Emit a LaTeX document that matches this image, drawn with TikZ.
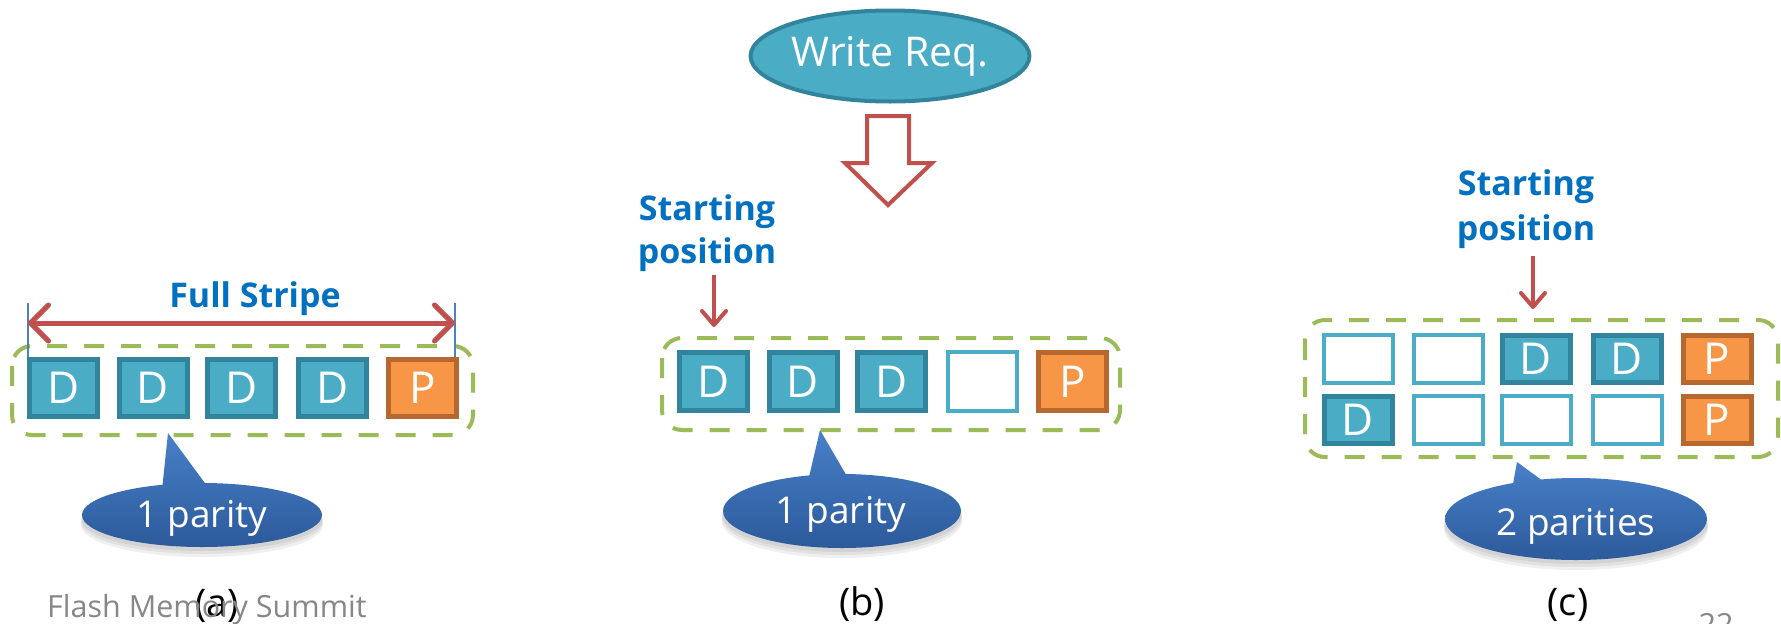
\documentclass[tikz,border=0pt]{standalone}
\usepackage{fontspec}
\setmainfont{Open Sans}
\usetikzlibrary{arrows.meta,shapes.geometric}

\definecolor{dedge}{HTML}{31849B}
\definecolor{dfill}{HTML}{4BACC6}
\definecolor{pfill}{HTML}{F79646}
\definecolor{pedge}{RGB}{182,104,46}
\definecolor{dashgreen}{HTML}{9BBB59}
\definecolor{redline}{HTML}{C0504D}
\definecolor{headblue}{HTML}{0070C0}
\definecolor{tickblue}{HTML}{4F81BD}
\definecolor{calltop}{RGB}{72,128,200}
\definecolor{callbot}{RGB}{44,90,155}
\definecolor{footgray}{RGB}{135,135,135}

\tikzset{
  dbox/.style={draw=dedge, fill=dfill, line width=5pt, minimum width=68pt,
    minimum height=57pt, inner sep=0pt, text=white,
    font=\fontsize{44}{44}\selectfont},
  pbox/.style={dbox, draw=pedge, fill=pfill},
  ebox/.style={dbox, draw=dfill, fill=white, line width=4pt,
    minimum width=69pt, minimum height=58pt},
  lowrow/.style={minimum height=47pt},
  stripe/.style={draw=dashgreen, line width=4pt, dash pattern=on 20pt off 17pt,
    rounded corners=20pt},
  heading/.style={text=headblue, font=\bfseries\fontsize{34}{40}\selectfont,
    inner sep=0pt, anchor=base},
  calltext/.style={text=white, font=\fontsize{37}{40}\selectfont,
    inner sep=0pt, anchor=base},
  caption/.style={text=black, font=\fontsize{38}{40}\selectfont,
    inner sep=0pt, anchor=base},
  pointer/.style={draw=redline, line width=4pt,
    -{Straight Barb[length=14pt,width=24pt,round]}},
  callshade/.style={top color=calltop, bottom color=callbot},
  callshadow/.style={fill=black, opacity=0.06},
}

\begin{document}
\begin{tikzpicture}[x=1pt,y=-1pt]
\useasboundingbox[fill=white] (0,0) rectangle (1781,624);

% ---------------- (a) full stripe ----------------
\draw[stripe] (12,346) rectangle (473,435);
\node[dbox] (a1) at (63.5,388) {D};
\node[dbox] (a2) at (153,388) {D};
\node[dbox] (a3) at (241.5,388) {D};
\node[dbox] (a4) at (332.5,388) {D};
\node[pbox] (a5) at (422.5,388) {P};

\coordinate (fsL) at (28,323);
\coordinate (fsR) at (455,323);
\coordinate (fsLt) at (28,303);
\coordinate (fsRt) at (455,303);
\draw[tickblue, line width=1.6pt] (fsLt) -- (a1.north west -| fsLt);
\draw[tickblue, line width=1.6pt] (fsRt) -- (a5.north -| fsRt);
\draw[redline, line width=5pt,
  {Straight Barb[length=18pt,width=36pt,round]}-{Straight Barb[length=18pt,width=36pt,round]}]
  (fsL) -- (fsR);
\node[heading] (fs) at (255,307) {Full Stripe};

% callout of (a)
\foreach \d in {4,7,10}
  \fill[callshadow] (202,515+\d) ellipse [x radius=121pt, y radius=32pt];
\shade[callshade] (210,490) -- (168,433) -- (162,490) -- cycle
  (202,515) ellipse [x radius=120pt, y radius=32pt];
\node[calltext] (ca) at (202,527) {1 parity};

\node[caption] (capa) at (217,616) {(a)};

% ---------------- (b) partial stripe ----------------
\node[dedge, fill=dfill, draw=dedge, ellipse, line width=4pt, minimum width=242pt,
  minimum height=91pt, inner sep=0pt, text=white,
  font=\fontsize{41}{44}\selectfont] (wr) at (890,56) {Write Req.};
\draw[redline, line width=4pt, fill=white, line join=miter]
  (867,116) -- (909,116) -- (909,163) -- (932,163) -- (888,205)
  -- (845,163) -- (867,163) -- cycle;

\node[heading] (spb1) at (707,220) {Starting};
\node[heading] (spb2) at (707,263) {position};
\coordinate (spbA) at (714,275);
\coordinate (spbB) at (714,327);
\draw[pointer] (spbA) -- (spbB);

\draw[stripe] (662,338) rectangle (1120,430);
\node[dbox, minimum height=58pt] (b1) at (713.5,381.5) {D};
\node[dbox, minimum height=58pt] (b2) at (803,381.5) {D};
\node[dbox, minimum height=58pt] (b3) at (891.5,381.5) {D};
\node[ebox, minimum height=59pt] (b4) at (982.5,381.5) {};
\node[pbox, minimum height=58pt] (b5) at (1072.5,381.5) {P};

\foreach \d in {4,7,10}
  \fill[callshadow] (842,511+\d) ellipse [x radius=120pt, y radius=37pt];
\shade[callshade] (855,490) -- (820,430) -- (806,490) -- cycle
  (842,511) ellipse [x radius=119pt, y radius=37pt];
\node[calltext] (cb) at (841,523) {1 parity};

\node[caption] (capb) at (862,615) {(b)};

% ---------------- (c) two parities ----------------
\node[heading] (spc1) at (1526,195) {Starting};
\node[heading] (spc2) at (1526,240) {position};
\coordinate (spcA) at (1533,256);
\coordinate (spcB) at (1533,309);
\draw[pointer] (spcA) -- (spcB);

\draw[stripe] (1305,320) rectangle (1778,457);
\node[ebox, minimum height=48pt] (c11) at (1358,359) {};
\node[ebox, minimum height=48pt] (c12) at (1448,359) {};
\node[dbox, lowrow] (c13) at (1536,359) {D};
\node[dbox, lowrow] (c14) at (1627,359) {D};
\node[pbox, lowrow] (c15) at (1717,359) {P};
\node[dbox, lowrow] (c21) at (1358,419.5) {D};
\node[ebox, minimum height=48pt] (c22) at (1448,419.5) {};
\node[ebox, minimum height=48pt] (c23) at (1536,419.5) {};
\node[ebox, minimum height=48pt] (c24) at (1627,419.5) {};
\node[pbox, lowrow] (c25) at (1717,419.5) {P};

\foreach \d in {4,7,10}
  \fill[callshadow] (1576,519+\d) ellipse [x radius=132pt, y radius=41pt];
\shade[callshade] (1562,495) -- (1517,462) -- (1511,495) -- cycle
  (1576,519) ellipse [x radius=131pt, y radius=41pt];
\node[calltext] (cc) at (1576,535) {2 parities};

\node[caption] (capc) at (1568,615) {(c)};

% ---------------- footer ----------------
\node[text=footgray, font=\fontsize{30.5}{34}\selectfont, inner sep=0pt,
  anchor=base west] (foot) at (47,617) {Flash Memory Summit};
\node[caption, text=footgray, font=\fontsize{30.5}{34}\selectfont]
  (pageno) at (1716,635) {22};
\end{tikzpicture}
\end{document}
